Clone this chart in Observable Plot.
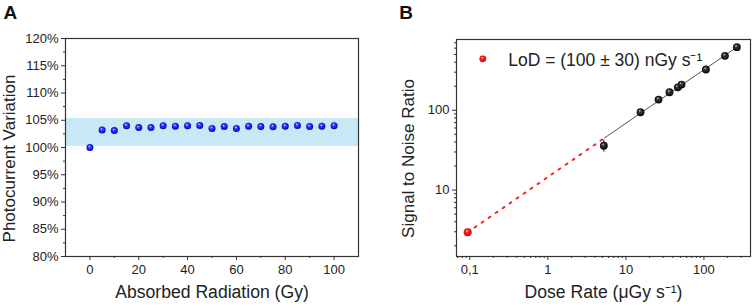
<!DOCTYPE html>
<html>
<head>
<meta charset="utf-8">
<script src="https://cdn.jsdelivr.net/npm/d3@7"></script>
<script src="https://cdn.jsdelivr.net/npm/@observablehq/plot@0.6"></script>
<style>
  body { margin: 0; background: #fff; }
  #root { position: relative; width: 754px; height: 308px; overflow: hidden; font-family: "Liberation Sans", Arial, sans-serif; }
  #root > svg { position: absolute; top: 0; }
</style>
</head>
<body>
<div id="root"></div>
<script>
// ---------- Panel A data ----------
const aDose = [0, 5, 10, 15, 20, 25, 30, 35, 40, 45, 50, 55, 60, 65, 70, 75, 80, 85, 90, 95, 100];
const aVariation = [100, 103.2, 103.1, 104.0, 103.65, 103.65, 104.0, 103.9, 104.0, 104.05, 103.5, 103.85, 103.5, 103.9, 103.85, 103.8, 103.9, 104.05, 103.85, 103.9, 104.0];
const aBandLow = [100.2];
const aBandHigh = [105.3];
const aXTicks = [0, 20, 40, 60, 80, 100];
const aXMinor = [10, 30, 50, 70, 90];
const aYTicks = [80, 85, 90, 95, 100, 105, 110, 115, 120];
const aYMinor = [82.5, 87.5, 92.5, 97.5, 102.5, 107.5, 112.5, 117.5];

// ---------- Panel B data ----------
const bRate = [5.22, 15.4, 26.2, 36.2, 46.3, 51.6, 106, 186, 264];
const bSnr = [36.0, 94.4, 136, 168, 194, 210, 324, 481, 617];
const bErr = [6.2, 5, 4, 4, 4, 4, 5, 6, 7];
const lodRate = [0.094];
const lodSnr = [2.95];
const fitRate = [5.33, 264];
const fitSnr = [45, 617];
const extRate = [0.094, 5.33];
const extSnr = [2.95, 45];
const bXTicks = [0.1, 1, 10, 100];
const bXLabels = ["0,1", "1", "10", "100"];
const bXMinor = [0.07, 0.08, 0.09, 0.2, 0.3, 0.4, 0.5, 0.6, 0.7, 0.8, 0.9, 2, 3, 4, 5, 6, 7, 8, 9, 20, 30, 40, 50, 60, 70, 80, 90, 200, 300];
const bYTicks = [10, 100];
const bYMinor = [2, 3, 4, 5, 6, 7, 8, 9, 20, 30, 40, 50, 60, 70, 80, 90, 200, 300, 400, 500, 600, 700];
const legendText = ["LoD = (100 \u00b1 30) nGy s\u207b\u00b9"];

const FONT = "Liberation Sans, Arial, sans-serif";
const INK = "#222";
const AXIS = "#333";

function gradients(svg) {
  d3.select(svg).insert("defs", ":first-child").html(`
    <radialGradient id="ballBlue" cx="50%" cy="50%" r="55%" fx="38%" fy="30%">
      <stop offset="0%" stop-color="#e8ecff"/>
      <stop offset="30%" stop-color="#3a4cff"/>
      <stop offset="75%" stop-color="#0a14e0"/>
      <stop offset="100%" stop-color="#00008a"/>
    </radialGradient>
    <radialGradient id="ballBlack" cx="50%" cy="50%" r="55%" fx="38%" fy="30%">
      <stop offset="0%" stop-color="#cfcfcf"/>
      <stop offset="30%" stop-color="#3a3a3a"/>
      <stop offset="100%" stop-color="#000"/>
    </radialGradient>
    <radialGradient id="ballRed" cx="50%" cy="50%" r="55%" fx="38%" fy="30%">
      <stop offset="0%" stop-color="#ffe0e0"/>
      <stop offset="30%" stop-color="#ff2a2a"/>
      <stop offset="100%" stop-color="#c00000"/>
    </radialGradient>`);
  return svg;
}

// ---------- Panel A ----------
const plotA = Plot.plot({
  width: 377, height: 308,
  marginLeft: 65, marginRight: 19, marginTop: 38, marginBottom: 52,
  style: { fontFamily: FONT, fontSize: "13px", color: INK, background: "transparent", overflow: "visible" },
  x: { type: "linear", domain: [-10, 110], label: null },
  y: { type: "linear", domain: [80, 120], label: null },
  marks: [
    Plot.rect(aBandLow.map((d, i) => ({ lo: d, hi: aBandHigh[i] })), { y1: "lo", y2: "hi", fill: "#c9e8f6" }),
    Plot.frame({ stroke: AXIS, strokeWidth: 1.2 }),
    Plot.axisX(aXTicks, { tickSize: 4, tickPadding: 4, fontSize: 13, stroke: AXIS, label: null }),
    Plot.axisX(aXMinor, { tickSize: 2, tickFormat: () => "", stroke: AXIS, label: null }),
    Plot.axisY(aYTicks, { tickSize: 4, tickPadding: 3, fontSize: 13, stroke: AXIS, tickFormat: d => d + "%", label: null }),
    Plot.axisY(aYMinor, { tickSize: 2, tickFormat: () => "", stroke: AXIS, label: null }),
    Plot.dot(aDose, { x: aDose, y: aVariation, r: 3.5, fill: "url(#ballBlue)", stroke: "none" }),
    Plot.text(["Absorbed Radiation (Gy)"], { frameAnchor: "bottom", dy: 41, lineAnchor: "bottom", fontSize: 17.6, fill: INK }),
    Plot.text(["Photocurrent Variation"], { frameAnchor: "left", textAnchor: "middle", rotate: -90, dx: -51, dy: 11, lineAnchor: "bottom", fontSize: 17, fill: INK }),
    Plot.text(["A"], { frameAnchor: "top-left", textAnchor: "start", dx: -62, dy: -20, lineAnchor: "bottom", fontSize: 19, fontWeight: "bold", fill: "#111" })
  ]
});
gradients(plotA);
plotA.style.left = "0px";
document.getElementById("root").appendChild(plotA);

// ---------- Panel B ----------
const plotB = Plot.plot({
  width: 377, height: 308,
  marginLeft: 79, marginRight: 4, marginTop: 39, marginBottom: 52,
  style: { fontFamily: FONT, fontSize: "13px", color: INK, background: "transparent", overflow: "visible" },
  x: { type: "log", domain: [0.0676, 395], label: null },
  y: { type: "log", domain: [1.47, 770], label: null },
  marks: [
    Plot.frame({ stroke: AXIS, strokeWidth: 1.2 }),
    Plot.axisX(bXTicks, { tickSize: 4, tickPadding: 4, fontSize: 13, stroke: AXIS, tickFormat: d => bXLabels[bXTicks.indexOf(d)], label: null }),
    Plot.axisX(bXMinor, { tickSize: 2, tickFormat: () => "", stroke: AXIS, label: null }),
    Plot.axisY(bYTicks, { tickSize: 4, tickPadding: 3, fontSize: 13, stroke: AXIS, tickFormat: d => String(d), label: null }),
    Plot.axisY(bYMinor, { tickSize: 2, tickFormat: () => "", stroke: AXIS, label: null }),
    Plot.line(extRate, { x: extRate, y: extSnr, stroke: "#ff2020", strokeWidth: 2, strokeDasharray: "2 6.5" }),
    Plot.line(fitRate, { x: fitRate, y: fitSnr, stroke: "#555", strokeWidth: 1 }),
    Plot.ruleX(bRate, { x: bRate, y1: bSnr.map((d, i) => d - bErr[i]), y2: bSnr.map((d, i) => d + bErr[i]), stroke: "#111", strokeWidth: 1 }),
    Plot.dot(bRate, { x: bRate, y: bSnr, r: 3.9, fill: "url(#ballBlack)", stroke: "none" }),
    Plot.dot(lodRate, { x: lodRate, y: lodSnr, r: 4, fill: "url(#ballRed)", stroke: "none" }),
    Plot.dot([0], { frameAnchor: "top-left", dx: 26.3, dy: 19.3, r: 3.4, fill: "url(#ballRed)", stroke: "none" }),
    Plot.text(legendText, { frameAnchor: "top-left", textAnchor: "start", dx: 51.7, dy: 26, lineAnchor: "bottom", fontSize: 17.5, fill: INK }),
    Plot.text(["Dose Rate (\u03bcGy s\u207b\u00b9)"], { frameAnchor: "bottom", dy: 41, lineAnchor: "bottom", fontSize: 17.6, fill: INK }),
    Plot.text(["Signal to Noise Ratio"], { frameAnchor: "left", textAnchor: "middle", rotate: -90, dx: -43, dy: 10.5, lineAnchor: "bottom", fontSize: 17, fill: INK }),
    Plot.text(["B"], { frameAnchor: "top-left", textAnchor: "start", dx: -57.3, dy: -21, lineAnchor: "bottom", fontSize: 19, fontWeight: "bold", fill: "#111" })
  ]
});
gradients(plotB);
plotB.style.left = "377px";
document.getElementById("root").appendChild(plotB);
</script>
</body>
</html>
